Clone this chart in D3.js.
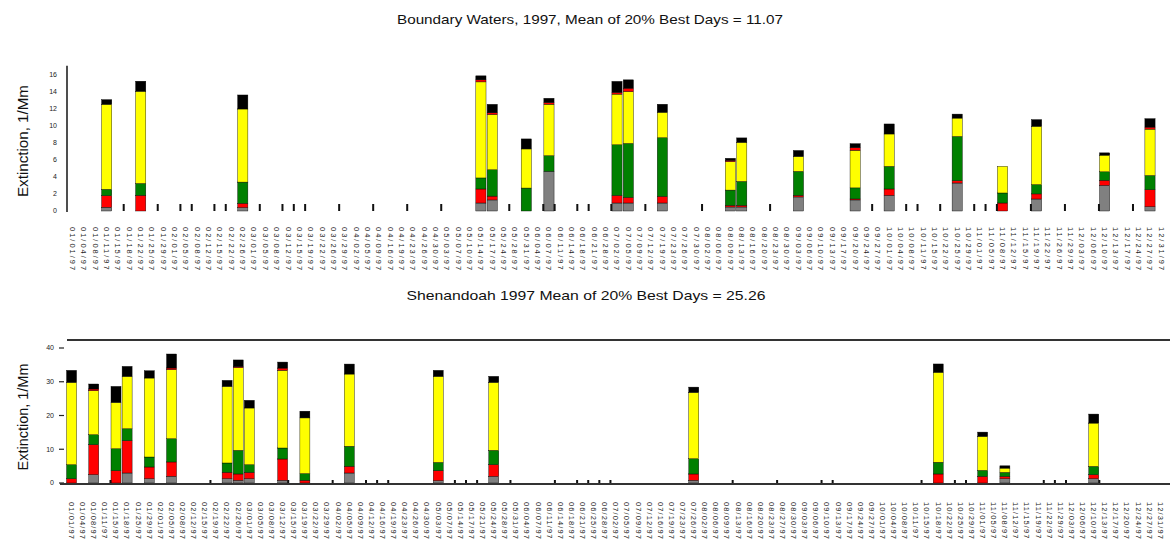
<!DOCTYPE html>
<html>
<head>
<meta charset="utf-8">
<script src="https://cdn.jsdelivr.net/npm/d3@7"></script>
<style>
  html, body { margin: 0; padding: 0; background: #fff; }
  svg { display: block; font-family: "Liberation Sans", Arial, sans-serif; }
</style>
</head>
<body>
<svg id="chart" width="1170" height="549"></svg>
<script>
// ---- Sample dates (1997, twice-weekly schedule) ----
const topDates = ["01/01","01/04","01/08","01/11","01/15","01/18","01/22","01/25","01/29",
  "02/01","02/05","02/08","02/12","02/15","02/22","02/26",
  "03/01","03/05","03/08","03/12","03/15","03/19","03/22","03/26","03/29",
  "04/02","04/05","04/09","04/16","04/19","04/23","04/26","04/30",
  "05/03","05/07","05/10","05/14","05/17","05/24","05/28","05/31",
  "06/04","06/07","06/11","06/14","06/18","06/21","06/28",
  "07/02","07/05","07/09","07/12","07/19","07/23","07/26","07/30",
  "08/02","08/06","08/09","08/13","08/16","08/20","08/23","08/30",
  "09/03","09/06","09/10","09/13","09/17","09/20","09/24","09/27",
  "10/01","10/04","10/08","10/11","10/15","10/22","10/25","10/29",
  "11/01","11/05","11/08","11/12","11/15","11/19","11/22","11/26","11/29",
  "12/03","12/06","12/10","12/13","12/17","12/24","12/27","12/31"];

const bottomDates = ["01/01","01/04","01/08","01/11","01/15","01/18","01/25","01/29",
  "02/01","02/05","02/08","02/12","02/15","02/19","02/22","02/26",
  "03/01","03/05","03/08","03/12","03/15","03/19","03/22","03/29",
  "04/02","04/05","04/09","04/12","04/16","04/19","04/23","04/26","04/30",
  "05/03","05/07","05/14","05/17","05/21","05/24","05/28","05/31",
  "06/04","06/07","06/11","06/14","06/18","06/21","06/25","06/28",
  "07/02","07/05","07/09","07/12","07/16","07/19","07/23","07/26",
  "08/02","08/06","08/09","08/13","08/16","08/20","08/23","08/27","08/30",
  "09/03","09/06","09/10","09/13","09/17","09/24","09/27",
  "10/01","10/04","10/08","10/11","10/15","10/18","10/22","10/25","10/29",
  "11/01","11/05","11/08","11/12","11/15","11/19","11/22","11/29",
  "12/03","12/06","12/10","12/13","12/17","12/20","12/24","12/27","12/31"];

// ---- Boundary Waters: 20% best days, extinction by species (1/Mm) ----
const topBarDates = ["01/11","01/22","02/26","05/14","05/17","05/31","06/07","07/02","07/05","07/19",
  "08/09","08/13","09/03","09/20","10/01","10/25","11/08","11/19","12/10","12/27"];
const topCoarse   = [0.44,0,0.4,0.94,1.3,0,4.66,0.94,0.94,0.94,0.47,0.47,1.65,1.3,1.84,3.29,0,1.41,3.01,0.5];
const topNitrate  = [1.36,1.84,0.5,1.65,0.45,0,0,0.89,0.66,0.78,0.19,0.19,0.19,0.12,0.75,0.27,0.94,0.6,0.6,2.0];
const topOrganics = [0.75,1.4,2.5,1.3,3.1,2.7,1.85,5.96,6.35,6.9,1.8,2.82,2.82,1.3,2.66,5.21,1.18,1.1,1.0,1.68];
const topSulfate  = [10.0,10.85,8.6,11.3,6.5,4.6,6.05,5.96,6.1,3.0,3.35,4.6,1.76,4.42,3.81,2.16,3.13,6.86,1.96,5.45];
const topSoil     = [0,0,0,0.24,0.2,0,0.2,0.2,0.4,0,0.15,0,0,0.31,0,0,0,0,0,0.24];
const topLac      = [0.55,1.18,1.65,0.47,1.0,1.18,0.5,1.3,0.98,0.94,0.24,0.52,0.7,0.47,1.18,0.47,0,0.78,0.27,0.99];
// days flagged with a baseline marker
const topMarks = ["01/18","01/29","02/05","02/08","02/15","02/22","03/05","03/12","03/15","03/19","03/29",
  "04/09","04/23","05/03","05/28","06/07","06/11","06/18","06/21","07/02","07/12","08/02","08/23",
  "09/27","10/08","10/11","10/22","11/01","11/05","11/08","11/19","11/29","12/10","12/24"];
const topTicks = [0,2,4,6,8,10,12,14,16];

// ---- Shenandoah: 20% best days, extinction by species (1/Mm) ----
const bottomBarDates = ["01/01","01/08","01/15","01/18","01/29","02/05","02/22","02/26","03/01","03/12",
  "03/19","04/05","05/03","05/24","07/26","10/18","11/01","11/08","12/10"];
const bottomCoarse   = [0,2.46,0,2.96,1.27,1.99,1.3,0.8,1.27,0.8,0,2.96,0.68,1.96,0.8,0,0,1.27,1.27];
const bottomNitrate  = [1.27,8.89,3.64,9.57,3.47,4.24,1.87,1.87,1.87,6.31,0.8,1.99,2.96,3.47,1.87,2.67,1.96,0.68,1.19];
const bottomOrganics = [4.15,2.96,6.52,3.56,2.96,6.9,2.76,7.0,2.28,3.26,1.99,5.93,2.46,4.24,4.53,3.47,1.78,1.19,2.46];
const bottomSulfate  = [24.4,13.04,13.72,15.5,23.4,20.44,22.7,24.5,16.8,23.0,16.5,21.4,25.5,20.15,19.64,26.67,10.07,1.27,12.83];
const bottomSoil     = [0,0.5,0,0,0,0.5,0,0.3,0,0.68,0,0,0,0,0,0,0,0,0];
const bottomLac      = [3.56,1.48,4.74,2.96,2.16,4.15,1.78,1.99,2.28,1.78,1.99,2.96,1.78,1.78,1.57,2.46,1.27,0.68,2.67];
const bottomMarks = ["01/15","02/19","03/15","04/02","04/12","04/16","04/19","05/14","05/17","05/21","05/31",
  "06/14","06/21","06/25","06/28","07/02","08/13","08/27","09/10","09/13","10/15","10/25","10/29",
  "11/22","11/29","12/03","12/13"];
const bottomTicks = [0,10,20,30,40];

const topTitle = "Boundary Waters, 1997, Mean of 20% Best Days = 11.07";
const bottomTitle = "Shenandoah 1997 Mean of 20% Best Days = 25.26";
const yTitle = "Extinction, 1/Mm";

// species stacking order (bottom to top) and fill colours
const species = ["coarse","nitrate","organics","sulfate","soil","lac"];
const speciesColor = { coarse:"#808080", nitrate:"#ff0000", organics:"#008000",
                       sulfate:"#ffff00", soil:"#ff0000", lac:"#000000" };

const svg = d3.select("#chart");

function buildRows(dates, cols) {
  return dates.map((d, i) => {
    const row = { date: d };
    species.forEach((k, j) => row[k] = cols[j][i]);
    return row;
  });
}

function drawPanel(cfg) {
  const g = svg.append("g");
  const x = d3.scaleBand().domain(cfg.dates).range([cfg.x0, cfg.x1]).paddingInner(0.1).paddingOuter(0.05);
  const y = d3.scaleLinear().domain(cfg.yDomain).range([cfg.yBase, cfg.yTop]);
  const half = (x.step() - x.bandwidth()) / 2;

  // stacked bars
  const rows = buildRows(cfg.barDates, cfg.cols);
  const stacked = d3.stack().keys(species)(rows);
  g.append("g").selectAll("g").data(stacked).join("g")
    .attr("fill", s => speciesColor[s.key])
    .selectAll("rect").data(s => s.filter(d => d[1] - d[0] > 0)).join("rect")
      .attr("x", d => x(d.data.date))
      .attr("width", x.bandwidth())
      .attr("y", d => y(d[1]))
      .attr("height", d => y(d[0]) - y(d[1]))
      .attr("stroke", "#000").attr("stroke-width", 0.4);

  // baseline markers
  g.append("g").selectAll("rect").data(cfg.marks).join("rect")
    .attr("x", d => x(d) - half - 1)
    .attr("width", 2)
    .attr("y", y(0) - cfg.markH)
    .attr("height", cfg.markH)
    .attr("fill", "#111");

  // date labels, rotated
  g.append("g").selectAll("text").data(cfg.dates).join("text")
    .attr("transform", d => `translate(${x(d) + x.bandwidth() / 2},${cfg.labelY}) rotate(90)`)
    .attr("dy", "0.35em")
    .attr("font-size", 7.5)
    .attr("letter-spacing", cfg.labelSpacing)
    .attr("fill", "#222")
    .text(d => d + "/97");

  // y tick labels
  g.append("g").selectAll("text").data(cfg.ticks).join("text")
    .attr("x", cfg.tickLabelX)
    .attr("y", d => y(d))
    .attr("dy", "0.35em")
    .attr("text-anchor", "end")
    .attr("font-size", 7)
    .attr("fill", "#222")
    .text(d => d);
  if (cfg.tickMarks) {
    g.append("g").selectAll("line").data(cfg.ticks).join("line")
      .attr("x1", cfg.x0 - 7).attr("x2", cfg.x0 - 2)
      .attr("y1", d => y(d)).attr("y2", d => y(d))
      .attr("stroke", "#222").attr("stroke-width", 1.2);
  }

  // y axis title
  g.append("text")
    .attr("transform", `translate(${cfg.yTitleX},${cfg.yTitleY}) rotate(-90)`)
    .attr("text-anchor", "middle")
    .attr("font-size", 14)
    .attr("textLength", cfg.yTitleLen).attr("lengthAdjust", "spacingAndGlyphs")
    .attr("fill", "#111")
    .text(yTitle);

  // panel title
  g.append("text")
    .attr("x", cfg.titleX).attr("y", cfg.titleY)
    .attr("text-anchor", "middle")
    .attr("font-size", 13)
    .attr("textLength", cfg.titleLen).attr("lengthAdjust", "spacingAndGlyphs")
    .attr("fill", "#111")
    .text(cfg.title);

  return { g, x, y };
}

// Boundary Waters panel
const topPanel = drawPanel({
  dates: topDates, barDates: topBarDates,
  cols: [topCoarse, topNitrate, topOrganics, topSulfate, topSoil, topLac],
  marks: topMarks, markH: 7, ticks: topTicks,
  x0: 67, x1: 1167, yBase: 211, yTop: 75, yDomain: [0, 16],
  labelY: 227, labelSpacing: 2.0, tickLabelX: 57, tickMarks: false,
  yTitleX: 28, yTitleY: 141, yTitleLen: 112,
  title: topTitle, titleX: 590, titleY: 24, titleLen: 386
});
svg.append("line")
  .attr("x1", 67).attr("x2", 67).attr("y1", topPanel.y(17.1)).attr("y2", topPanel.y(0) + 1)
  .attr("stroke", "#222").attr("stroke-width", 1.6);

// Shenandoah panel
const bottomPanel = drawPanel({
  dates: bottomDates, barDates: bottomBarDates,
  cols: [bottomCoarse, bottomNitrate, bottomOrganics, bottomSulfate, bottomSoil, bottomLac],
  marks: bottomMarks, markH: 3, ticks: bottomTicks,
  x0: 66, x1: 1166, yBase: 483, yTop: 348, yDomain: [0, 40],
  labelY: 502, labelSpacing: 1.1, tickLabelX: 54, tickMarks: true,
  yTitleX: 28, yTitleY: 417, yTitleLen: 107,
  title: bottomTitle, titleX: 586, titleY: 300, titleLen: 359
});
svg.append("line")
  .attr("x1", 67).attr("x2", 1170).attr("y1", 340).attr("y2", 340)
  .attr("stroke", "#333").attr("stroke-width", 2);
svg.append("line")
  .attr("x1", 60).attr("x2", 1170).attr("y1", bottomPanel.y(0) + 1).attr("y2", bottomPanel.y(0) + 1)
  .attr("stroke", "#333").attr("stroke-width", 2);
</script>
</body>
</html>
